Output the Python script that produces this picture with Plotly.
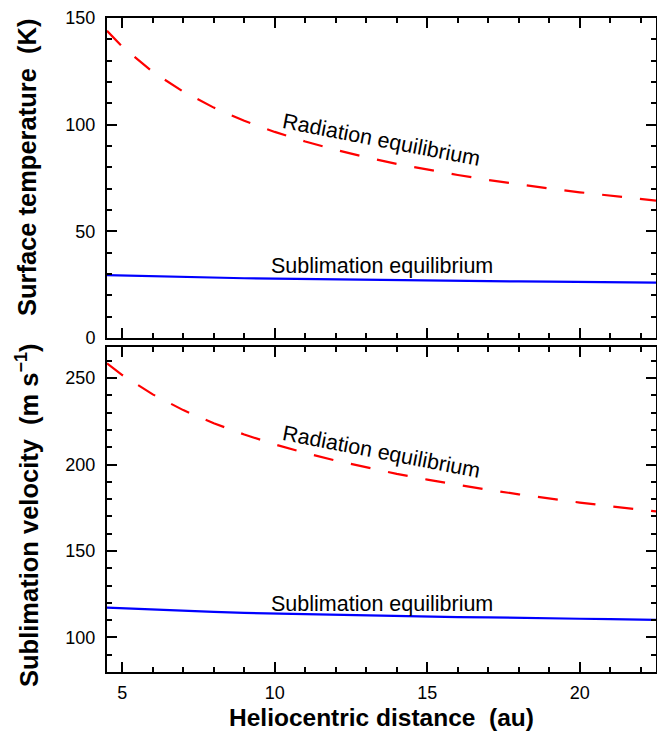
import plotly.graph_objects as go
from plotly.subplots import make_subplots

# Heliocentric distance (au)
distance = [4.5, 5, 6, 7, 8, 9, 10, 11, 12, 13, 14, 15, 16, 17, 18, 19, 20, 21, 22, 22.5]

# Surface temperature (K)
temp_radiation = [144.0, 136.6, 124.7, 115.5, 108.0, 101.8, 96.6, 92.1, 88.2, 84.7,
                  81.6, 78.9, 76.4, 74.1, 72.0, 70.1, 68.3, 66.7, 65.1, 64.4]
temp_sublimation = [29.5, 29.3, 28.9, 28.6, 28.3, 28.0, 27.8, 27.6, 27.4, 27.2,
                    27.1, 26.9, 26.8, 26.7, 26.5, 26.4, 26.3, 26.2, 26.1, 26.0]

# Sublimation velocity (m/s)
vel_radiation = [258.5, 251.8, 240.6, 231.5, 223.9, 217.4, 211.7, 206.7, 202.3, 198.3,
                 194.6, 191.3, 188.2, 185.4, 182.8, 180.3, 178.0, 175.9, 173.8, 172.9]
vel_sublimation = [117.2, 116.8, 116.0, 115.4, 114.8, 114.2, 113.8, 113.4, 113.0, 112.6,
                   112.4, 112.0, 111.8, 111.6, 111.2, 111.0, 110.8, 110.6, 110.4, 110.2]

x_title = "Heliocentric distance\u00a0 (au)"
y_title_top = "Surface temperature\u00a0 (K)"
y_title_bottom = "Sublimation velocity\u00a0 (m s<sup>\u22121</sup>)"
label_rad = "Radiation equilibrium"
label_sub = "Sublimation equilibrium"

FONT = "Arial, Liberation Sans, sans-serif"
RED = "#ff0000"
BLUE = "#0000ff"

fig = make_subplots(rows=2, cols=1, shared_xaxes=True)

dash = "20px,18px"
fig.add_trace(go.Scatter(x=distance, y=temp_radiation, mode="lines",
                         line=dict(color=RED, width=2.2, dash=dash)), row=1, col=1)
fig.add_trace(go.Scatter(x=distance, y=temp_sublimation, mode="lines",
                         line=dict(color=BLUE, width=2.2)), row=1, col=1)
fig.add_trace(go.Scatter(x=distance, y=vel_radiation, mode="lines",
                         line=dict(color=RED, width=2.2, dash=dash)), row=2, col=1)
fig.add_trace(go.Scatter(x=distance, y=vel_sublimation, mode="lines",
                         line=dict(color=BLUE, width=2.2)), row=2, col=1)

axis_common = dict(showline=True, linecolor="black", linewidth=2, mirror="allticks",
                   ticks="inside", ticklen=10, tickwidth=1.5, tickcolor="black",
                   showgrid=False, zeroline=False, automargin=False,
                   ticklabeloverflow="allow",
                   tickfont=dict(family=FONT, size=18, color="black"))

fig.update_xaxes(range=[4.5, 22.5], tick0=5, dtick=5, ticklabelstandoff=3,
                 minor=dict(dtick=1, ticks="inside", ticklen=5, tickwidth=1.5, tickcolor="black"),
                 **axis_common)

fig.update_yaxes(range=[0, 150], dtick=50, ticklabelstandoff=6, domain=[0.5107, 1.0],
                 minor=dict(dtick=10, ticks="inside", ticklen=5, tickwidth=1.5, tickcolor="black"),
                 row=1, col=1, **axis_common)
fig.update_yaxes(range=[80, 268], tick0=100, dtick=50, ticklabelstandoff=6, domain=[0.0, 0.4969],
                 minor=dict(tick0=100, dtick=10, ticks="inside", ticklen=5, tickwidth=1.5, tickcolor="black"),
                 row=2, col=1, **axis_common)

title_font = dict(family=FONT, size=24.5, color="black", weight="bold")
ytitle_font = dict(family=FONT, size=25.5, color="black", weight="bold")
fig.add_annotation(x=-0.1457, y=0.772, xref="paper", yref="paper", text=y_title_top,
                   showarrow=False, textangle=-90, font=ytitle_font,
                   xanchor="center", yanchor="middle")
fig.add_annotation(x=-0.1457, y=0.2385, xref="paper", yref="paper", text=y_title_bottom,
                   showarrow=False, textangle=-90, font=ytitle_font,
                   xanchor="center", yanchor="middle")
fig.add_annotation(x=0.5, y=-0.0703, xref="paper", yref="paper", text=x_title,
                   showarrow=False, font=title_font, xanchor="center", yanchor="middle")

ann_font = dict(family=FONT, size=21.5, color="black")
fig.add_annotation(x=13.5, y=92.8, xref="x", yref="y", text=label_rad,
                   showarrow=False, textangle=11, font=ann_font)
fig.add_annotation(x=13.5, y=33.7, xref="x", yref="y", text=label_sub,
                   showarrow=False, font=ann_font)
fig.add_annotation(x=13.5, y=207.0, xref="x2", yref="y2", text=label_rad,
                   showarrow=False, textangle=11, font=ann_font)
fig.add_annotation(x=13.5, y=119.5, xref="x2", yref="y2", text=label_sub,
                   showarrow=False, font=ann_font)

# The page body adds an 8 px offset; margins compensate so the plot lands where the reference has it.
fig.update_layout(width=665, height=747, showlegend=False,
                  paper_bgcolor="white", plot_bgcolor="white",
                  margin=dict(l=99, r=17, t=10, b=83, autoexpand=False),
                  font=dict(family=FONT, color="black"))

fig.write_html("out.html")
